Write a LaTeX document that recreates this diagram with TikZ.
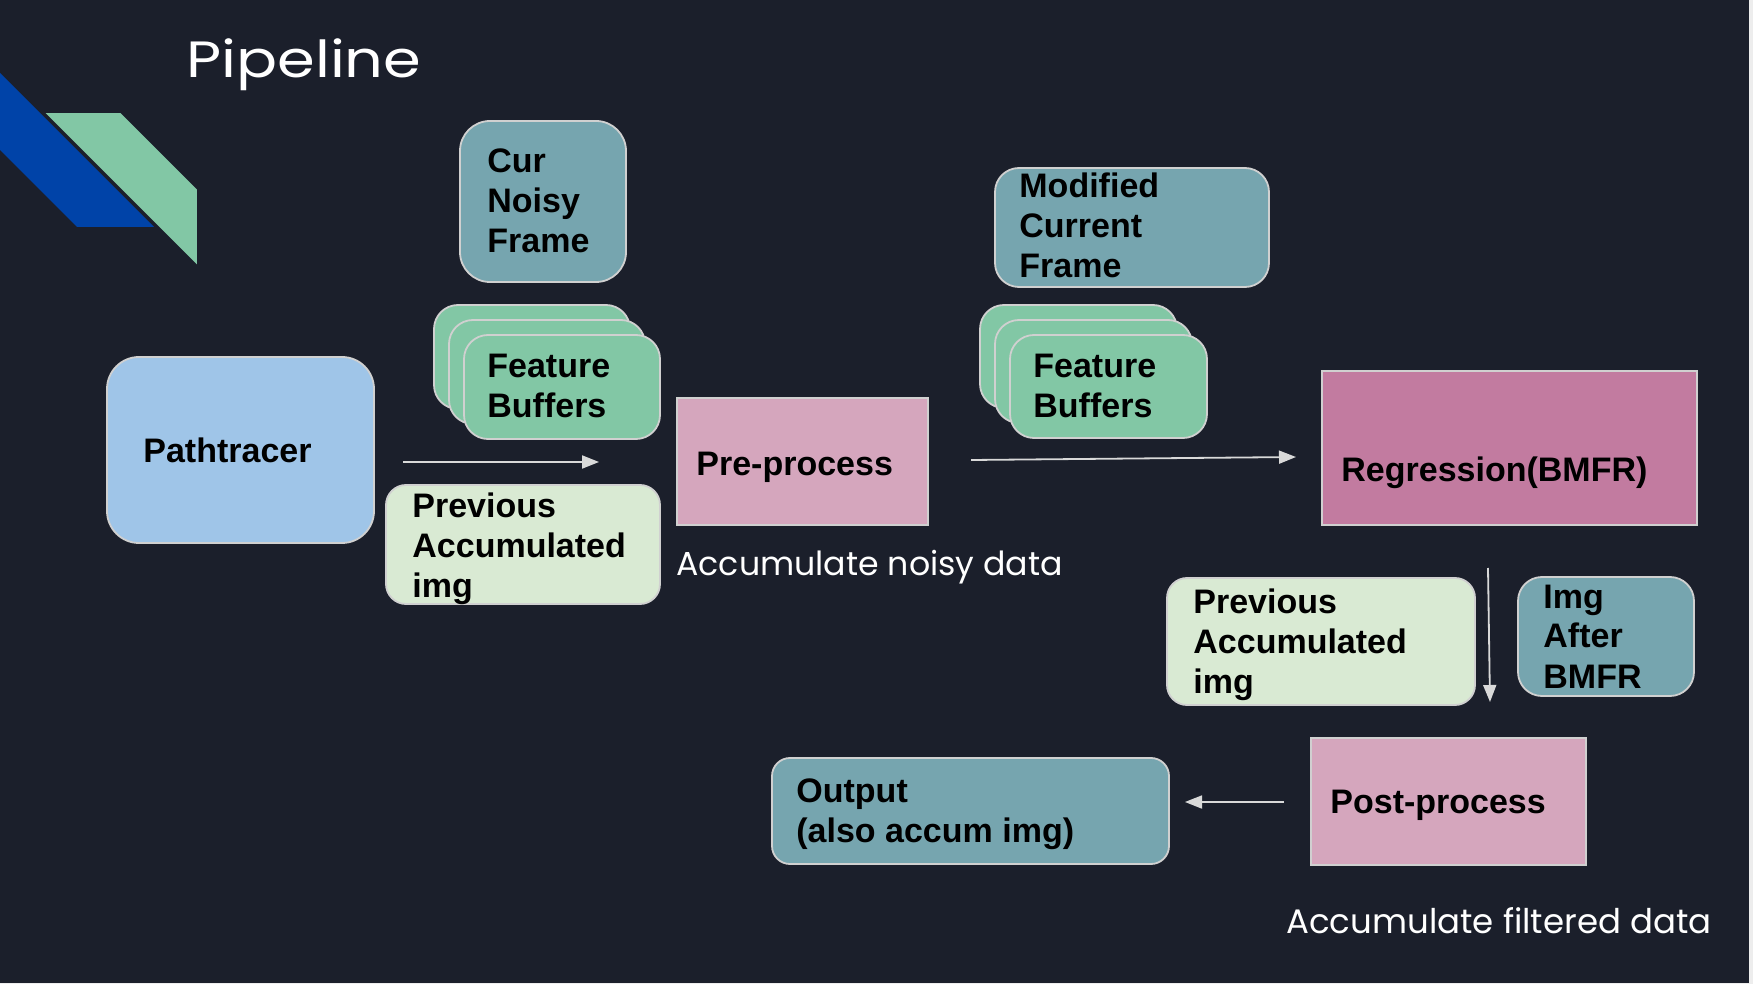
\documentclass[tikz,border=0pt]{standalone}
\usepackage{graphicx}
\usepackage{fontspec}
\setmainfont{Liberation Sans}
\newfontfamily\titlefont{Poppins}
\usetikzlibrary{arrows.meta,fit}
\definecolor{bg}{HTML}{1B1F2B}
\definecolor{edge}{HTML}{EDEDED}
\definecolor{outl}{HTML}{D0D0D0}
\definecolor{arrc}{HTML}{D9D9D9}
\definecolor{cpath}{HTML}{9FC5E8}
\definecolor{cteal}{HTML}{76A5AF}
\definecolor{cfeat}{HTML}{82C7A5}
\definecolor{cprev}{HTML}{D9EAD3}
\definecolor{cpink}{HTML}{D5A6BD}
\definecolor{creg}{HTML}{C27BA0}
\definecolor{cblue}{HTML}{0043A8}
\newcommand\boxlines[1]{\begin{tabular}[t]{@{}l@{}}#1\end{tabular}}
\begin{document}
\begin{tikzpicture}[x=0.5pt,y=-0.5pt,
  shp/.style={draw=outl, line width=0.9pt, inner sep=0pt},
  rbox/.style={shp, rounded corners=#1},
  rbox/.default=12pt,
  sbox/.style={shp},
  btxt/.style={anchor=base west, inner sep=0pt, font=\fontsize{17}{20}\selectfont\bfseries, text=black},
  wtxt/.style={anchor=base west, inner sep=0pt, text=white},
  arr/.style={draw=arrc, line width=0.9pt, -{Triangle[length=8.5pt,width=6.5pt]}}]
% background
\fill[edge] (0,0) rectangle (1753,984);
\fill[bg] (0,0) rectangle (1749,983);
\useasboundingbox (0,0) rectangle (1753,984);
% decoration
\fill[cblue] (0,73) -- (154,227) -- (77,227) -- (0,150) -- cycle;
\filldraw[fill=cfeat, draw=bg, line width=1pt] (43,112) -- (121,112) -- (198,189) -- (198,267) -- cycle;
% title
\node[wtxt, font=\titlefont\fontsize{25.5}{30}\selectfont] (title) at (186,78) {\scalebox{1.19}[1]{Pipeline}};
% Pathtracer
\node[rbox=16pt, fill=cpath, fit={(107,357) (374,543)}] (path) {};
\node[btxt] (pathT) at (143,463) {Pathtracer};
% Cur noisy frame
\node[rbox=15pt, fill=cteal, fit={(460,121) (626,282)}] (cur) {};
\node[btxt] (curT) at (487,173) {\boxlines{Cur\\Noisy\\Frame}};
% feature buffers 1
\node[rbox, fill=cfeat, fit={(434,305) (630,409)}] (fbA1) {};
\node[rbox, fill=cfeat, fit={(449,320) (645,424)}] (fbB1) {};
\node[rbox, fill=cfeat, fit={(464,335) (660,439)}] (fbC1) {};
\node[btxt] (fb1T) at (487,378) {\boxlines{Feature\\Buffers}};
% previous accumulated 1
\node[rbox=10pt, fill=cprev, fit={(386,485) (660,604)}] (prev1) {};
\node[btxt] (prev1T) at (412,517) {\boxlines{Previous\\Accumulated\\img}};
% pre-process
\node[sbox, fill=cpink, fit={(677,398) (928,525)}] (pre) {};
\node[btxt] (preT) at (696,475) {Pre-process};
\node[wtxt, font=\titlefont\fontsize{16.6}{20}\selectfont] (noisy) at (676,575) {Accumulate noisy data};
% modified current frame
\node[rbox, fill=cteal, fit={(995,168) (1269,287)}] (mod) {};
\node[btxt] (modT) at (1019,198) {\boxlines{Modified\\Current\\Frame}};
% feature buffers 2
\node[rbox, fill=cfeat, fit={(980,305) (1177,408)}] (fbA2) {};
\node[rbox, fill=cfeat, fit={(995,320) (1192,423)}] (fbB2) {};
\node[rbox, fill=cfeat, fit={(1010,335) (1207,438)}] (fbC2) {};
\node[btxt] (fb2T) at (1033,378) {\boxlines{Feature\\Buffers}};
% regression
\node[sbox, fill=creg, fit={(1322,371) (1697,525)}] (reg) {};
\node[btxt] (regT) at (1341,481) {Regression(BMFR)};
% previous accumulated 2
\node[rbox=10pt, fill=cprev, fit={(1167,578) (1475,705)}] (prev2) {};
\node[btxt] (prev2T) at (1193,613) {\boxlines{Previous\\Accumulated\\img}};
% img after BMFR
\node[rbox, fill=cteal, fit={(1518,577) (1694,696)}] (img) {};
\node[btxt] (imgT) at (1543,608) {\boxlines{Img\\After\\BMFR}};
% post-process
\node[sbox, fill=cpink, fit={(1311,738) (1586,865)}] (post) {};
\node[btxt] (postT) at (1330,813) {Post-process};
% output
\node[rbox=9pt, fill=cteal, fit={(772,758) (1169,864)}] (out) {};
\node[btxt] (outT) at (796,802) {\boxlines{Output\\(also accum img)}};
\node[wtxt, font=\titlefont\fontsize{17}{21}\selectfont] (filt) at (1286,933) {Accumulate filtered data};
% connectors
\coordinate (a1s) at (403,462); \coordinate (a1e) at (599,462);
\coordinate (a2s) at (971,460); \coordinate (a2e) at (1296,457);
\coordinate (a3s) at (1488,568); \coordinate (a3e) at (1490,702);
\coordinate (a4s) at (1284,802); \coordinate (a4e) at (1185,802);
\draw[arr] (a1s) -- (a1e);
\draw[arr] (a2s) -- (a2e);
\draw[arr] (a3s) -- (a3e);
\draw[arr] (a4s) -- (a4e);
\end{tikzpicture}
\end{document}
